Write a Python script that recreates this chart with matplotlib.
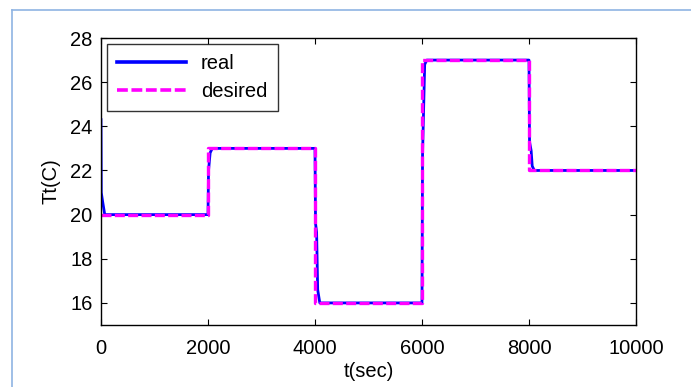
import matplotlib
matplotlib.use("Agg")
import matplotlib.pyplot as plt
from matplotlib.lines import Line2D

plt.rcParams['font.family'] = ['Liberation Sans', 'DejaVu Sans']

# data
real_t = [0, 5, 30, 70, 2000, 2010, 2040, 2080, 4000, 4010, 4030, 4050, 4090,
          6000, 6010, 6050, 6090, 8000, 8010, 8040, 8060, 8100, 10000]
real_T = [24.3, 21.0, 20.6, 20.0, 20.0, 22.0, 22.8, 23.0, 23.0, 19.6, 19.2, 16.6, 16.0,
          16.0, 22.7, 26.8, 27.0, 27.0, 23.3, 22.9, 22.2, 22.0, 22.0]
desired_t = [0, 2000, 4000, 6000, 8000, 10000]
desired_T = [20, 23, 16, 27, 22, 22]
xticks = [0, 2000, 4000, 6000, 8000, 10000]
yticks = [16, 18, 20, 22, 24, 26, 28]

W, H = 691, 387
fig = plt.figure(figsize=(W / 100, H / 100), dpi=100)
ax = fig.add_axes([101 / W, 1 - 325 / H, (636 - 101) / W, (325 - 38) / H])

ax.plot(real_t, real_T, color='#0000ff', lw=2.0, label='real')
ax.plot(desired_t, desired_T, color='#ff00ff', lw=2.4, dashes=(3.0, 1.0),
        drawstyle='steps-post', label='desired')

ax.set_xlim(0, 10000)
ax.set_ylim(15, 28)
ax.set_xticks(xticks)
ax.set_yticks(yticks)
ax.tick_params(direction='in', length=4, width=0.8, top=True, right=True,
               labelsize=14.5)
ax.tick_params(axis='x', pad=10)
ax.tick_params(axis='y', pad=6)
for s in ax.spines.values():
    s.set_linewidth(1.0)
ax.set_xlabel('t(sec)', fontsize=14.5, labelpad=3)
ax.set_ylabel('Tt(C)', fontsize=14.5, labelpad=7)

leg = ax.legend(loc='upper left', fontsize=14.5, frameon=True, fancybox=False,
                bbox_to_anchor=(0.012, 0.98), borderaxespad=0, handlelength=3.4,
                borderpad=0.5, labelspacing=0.45, handletextpad=0.75)
leg.get_frame().set_edgecolor('black')
leg.get_frame().set_linewidth(1.0)
for h in leg.get_lines():
    h.set_linewidth(2.6)

# window border
fig.add_artist(Line2D([11.5 / W, 11.5 / W], [0, 1 - 10 / H], transform=fig.transFigure,
                      color='#8fb4e3', lw=1.2))
fig.add_artist(Line2D([11.5 / W, 1], [1 - 10 / H, 1 - 10 / H], transform=fig.transFigure,
                      color='#8fb4e3', lw=1.2))

fig.savefig('out.png', dpi=100)
